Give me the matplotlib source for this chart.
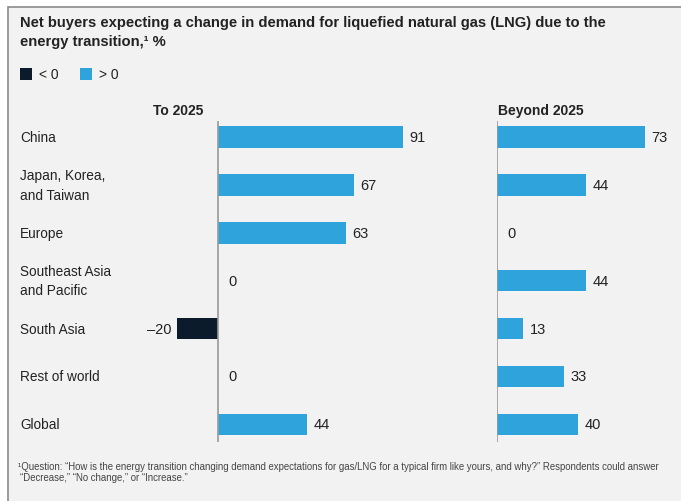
import matplotlib.pyplot as plt
from matplotlib.patches import Rectangle
from matplotlib.transforms import blended_transform_factory

plt.rcParams['font.family'] = ['Liberation Sans', 'DejaVu Sans']

# data
regions = ["China", "Japan, Korea,\nand Taiwan", "Europe", "Southeast Asia\nand Pacific",
           "South Asia", "Rest of world", "Global"]
to_2025 = [91, 67, 63, 0, -20, 0, 44]
beyond_2025 = [73, 44, 0, 44, 13, 33, 40]

BLUE = "#2ea3dc"
NAVY = "#0b1b2c"
BG = "#f2f2f2"
TXT = "#222222"

W, H = 681, 502
fig = plt.figure(figsize=(W / 100, H / 100), dpi=100)
fig.patch.set_facecolor("white")

# framed panel
fig.patches.append(Rectangle((8 / W, -0.05), 1.1, (H - 8) / H + 0.05,
                             transform=fig.transFigure, facecolor=BG,
                             edgecolor="#8a8a8a", lw=1.2, zorder=-5))


def px(x, y):
    return x / W, 1 - y / H


# title
fig.text(*px(20, 23), "Net buyers expecting a change in demand for liquefied natural gas (LNG) due to the",
         fontsize=10.6, fontweight="bold", color=TXT, va="center")
fig.text(*px(20, 42), "energy transition,\u00b9 %", fontsize=10.6, fontweight="bold",
         color=TXT, va="center")

# legend
fig.patches.append(Rectangle(px(20, 81), 12 / W, 12 / H, transform=fig.transFigure,
                             facecolor=NAVY, edgecolor="none"))
fig.text(*px(39, 75), "< 0", fontsize=10, color=TXT, va="center")
fig.patches.append(Rectangle(px(80, 81), 12 / W, 12 / H, transform=fig.transFigure,
                             facecolor=BLUE, edgecolor="none"))
fig.text(*px(99, 75), "> 0", fontsize=10, color=TXT, va="center")

# panel headers
fig.text(*px(153, 111), "To 2025", fontsize=10, fontweight="bold", color=TXT, va="center")
fig.text(*px(498, 111), "Beyond 2025", fontsize=10, fontweight="bold", color=TXT, va="center")

scale = 2.03  # pixels per percentage point
top, bot = 122, 443
ypos = list(range(len(regions)))
ylim = (6.37, -0.335)


def panel(zero_x, xmin, xmax, values):
    left = zero_x + xmin * scale
    width = (xmax - xmin) * scale
    ax = fig.add_axes([left / W, 1 - bot / H, width / W, (bot - top) / H])
    ax.set_facecolor("none")
    colors = [NAVY if v < 0 else BLUE for v in values]
    ax.barh(ypos, values, height=0.45, color=colors)
    ax.axvline(0, color="#9a9a9a", lw=1.2)
    for y, v in zip(ypos, values):
        if v < 0:
            ax.annotate("\u2013" + str(abs(v)), (v, y), xytext=(-4, 0),
                        textcoords="offset points", ha="right", va="center",
                        fontsize=10.5, color=TXT)
        else:
            off = 7.5 if v == 0 else 4.5
            ax.annotate(str(v), (v, y), xytext=(off, 0), textcoords="offset points",
                        ha="left", va="center", fontsize=10.5, color=TXT)
    ax.set_xlim(xmin, xmax)
    ax.set_ylim(*ylim)
    ax.axis("off")
    return ax


ax1 = panel(218, -30, 110, to_2025)
ax2 = panel(497, 0, 85, beyond_2025)

# category labels
trans = blended_transform_factory(fig.transFigure, ax1.transData)
for y, name in zip(ypos, regions):
    fig.text(20 / W, y, name, transform=trans, fontsize=9.8, color=TXT,
             va="center", ha="left", linespacing=1.5)

# footnote
fig.text(*px(18, 467), "\u00b9Question: \u201cHow is the energy transition changing demand expectations for gas/LNG "
         "for a typical firm like yours, and why?\u201d Respondents could answer",
         fontsize=6.9, color="#444444", va="center")
fig.text(*px(20, 478), "\u201cDecrease,\u201d \u201cNo change,\u201d or \u201cIncrease.\u201d",
         fontsize=6.9, color="#444444", va="center")

fig.savefig("out.png", dpi=100, facecolor=fig.get_facecolor())
